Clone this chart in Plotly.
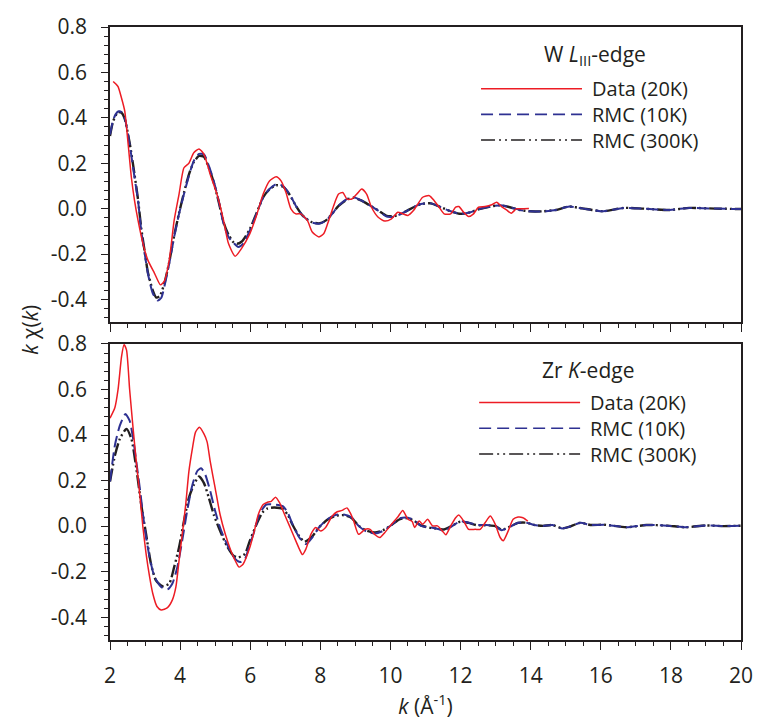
import plotly.graph_objects as go

# ---------------- W L_III-edge (upper panel) ----------------
k_w_data = [2.09, 2.16, 2.23, 2.33, 2.42, 2.52, 2.61, 2.70, 2.80, 2.94, 3.08, 3.27, 3.44, 3.55,
            3.69, 3.83, 3.97, 4.11, 4.25, 4.39, 4.54, 4.68, 4.86, 5.05, 5.24, 5.38, 5.57, 5.75,
            5.99, 6.18, 6.37, 6.55, 6.74, 6.88, 7.02, 7.16, 7.30, 7.44, 7.63, 7.77, 7.96, 8.10,
            8.24, 8.38, 8.52, 8.64, 8.76, 8.90, 9.04, 9.18, 9.32, 9.46, 9.65, 9.84, 10.03, 10.21,
            10.35, 10.50, 10.65, 10.78, 10.92, 11.11, 11.25, 11.39, 11.53, 11.72, 11.86, 11.95,
            12.09, 12.23, 12.37, 12.51, 12.70, 12.89, 13.03, 13.17, 13.31, 13.45, 13.59, 13.73, 13.95]
chi_w_data = [0.56, 0.55, 0.537, 0.486, 0.43, 0.28, 0.137, 0.035, -0.052, -0.154, -0.227, -0.285,
              -0.336, -0.32, -0.227, -0.052, 0.064, 0.18, 0.20, 0.246, 0.263, 0.239, 0.15, 0.064,
              -0.052, -0.154, -0.21, -0.176, -0.11, -0.03, 0.064, 0.122, 0.14, 0.122, 0.071, -0.001,
              -0.023, -0.023, -0.052, -0.103, -0.125, -0.11, -0.052, 0.013, 0.064, 0.071, 0.042,
              0.042, 0.064, 0.086, 0.064, 0.006, -0.038, -0.055, -0.045, -0.016, -0.023, -0.03,
              -0.01, 0.02, 0.05, 0.057, 0.035, 0.006, -0.023, -0.023, 0.006, 0.009, -0.016, -0.035,
              -0.023, 0.006, 0.009, 0.017, 0.028, 0.009, -0.006, -0.02, -0.001, -0.001, 0.0]

k_w_rmc10 = [2.00, 2.09, 2.16, 2.23, 2.33, 2.42, 2.56, 2.70, 2.80, 2.89, 2.99, 3.08, 3.22, 3.36,
             3.46, 3.55, 3.69, 3.83, 3.97, 4.11, 4.25, 4.39, 4.54, 4.68, 4.82, 4.96, 5.10, 5.24,
             5.38, 5.52, 5.66, 5.80, 5.99, 6.18, 6.37, 6.55, 6.74, 6.93, 7.12, 7.30, 7.49, 7.73,
             7.96, 8.15, 8.34, 8.52, 8.76, 8.95, 9.18, 9.42, 9.65, 9.89, 10.12, 10.40, 10.69,
             10.87, 11.15, 11.44, 11.72, 12.00, 12.28, 12.56, 12.85, 13.13, 13.41, 13.69, 13.97,
             14.35, 14.72, 15.10, 15.47, 15.75, 16.08, 16.65, 17.20, 17.96, 18.52, 19.27, 20.00]
chi_w_rmc10 = [0.326, 0.39, 0.415, 0.428, 0.425, 0.40, 0.283, 0.137, 0.035, -0.096, -0.198,
               -0.285, -0.373, -0.405, -0.394, -0.344, -0.242, -0.125, -0.023, 0.064, 0.144, 0.21,
               0.241, 0.239, 0.188, 0.122, 0.035, -0.067, -0.125, -0.15, -0.169, -0.154, -0.096,
               -0.023, 0.05, 0.086, 0.108, 0.10, 0.064, 0.013, -0.03, -0.06, -0.067, -0.055,
               -0.023, 0.013, 0.042, 0.05, 0.035, 0.013, -0.009, -0.035, -0.035, -0.016, 0.009,
               0.02, 0.023, 0.006, -0.012, -0.023, -0.016, -0.001, 0.009, 0.015, 0.006, -0.006,
               -0.012, -0.012, -0.006, 0.009, 0.001, -0.006, -0.012, 0.003, 0.0, -0.006, 0.003,
               0.0, -0.002]

k_w_rmc300 = [2.00, 2.09, 2.23, 2.33, 2.42, 2.56, 2.70, 2.80, 2.89, 2.99, 3.08, 3.22, 3.32, 3.42,
              3.55, 3.69, 3.83, 3.97, 4.11, 4.25, 4.39, 4.54, 4.68, 4.82, 4.96, 5.10, 5.24, 5.38,
              5.52, 5.62, 5.76, 5.99, 6.18, 6.37, 6.55, 6.74, 6.93, 7.12, 7.30, 7.49, 7.73, 7.96,
              8.15, 8.34, 8.52, 8.76, 8.95, 9.18, 9.42, 9.65, 9.89, 10.12, 10.40, 10.69, 10.87,
              11.15, 11.44, 11.72, 12.00, 12.28, 12.56, 12.85, 13.13, 13.41, 13.69, 13.97, 14.35,
              14.72, 15.10, 15.47, 15.75, 16.08, 16.65, 17.20, 17.96, 18.52, 19.27, 20.00]
chi_w_rmc300 = [0.32, 0.385, 0.425, 0.422, 0.395, 0.29, 0.15, 0.04, -0.085, -0.19, -0.28, -0.36,
                -0.392, -0.385, -0.33, -0.235, -0.12, -0.02, 0.07, 0.15, 0.205, 0.232, 0.228,
                0.18, 0.115, 0.03, -0.06, -0.115, -0.148, -0.155, -0.145, -0.09, -0.02, 0.05,
                0.085, 0.103, 0.097, 0.062, 0.013, -0.03, -0.058, -0.065, -0.053, -0.022, 0.012,
                0.04, 0.048, 0.035, 0.013, -0.008, -0.032, -0.033, -0.015, 0.008, 0.02, 0.023,
                0.006, -0.012, -0.023, -0.016, -0.001, 0.009, 0.015, 0.006, -0.006, -0.012, -0.012,
                -0.006, 0.009, 0.001, -0.006, -0.012, 0.003, 0.0, -0.006, 0.003, 0.0, -0.002]

# ---------------- Zr K-edge (lower panel) ----------------
k_zr_data = [2.00, 2.14, 2.23, 2.33, 2.40, 2.47, 2.56, 2.66, 2.75, 2.85, 2.94, 3.03, 3.13, 3.22,
             3.34, 3.46, 3.64, 3.78, 3.88, 3.97, 4.06, 4.16, 4.25, 4.35, 4.44, 4.55, 4.68, 4.77,
             4.86, 5.00, 5.14, 5.29, 5.43, 5.57, 5.68, 5.80, 5.99, 6.12, 6.23, 6.37, 6.51, 6.60,
             6.72, 6.84, 6.98, 7.12, 7.26, 7.40, 7.49, 7.59, 7.73, 7.87, 8.01, 8.15, 8.34, 8.48,
             8.62, 8.76, 8.85, 8.95, 9.09, 9.28, 9.42, 9.56, 9.70, 9.84, 10.03, 10.21, 10.35,
             10.50, 10.62, 10.69, 10.82, 10.92, 11.06, 11.20, 11.34, 11.48, 11.58, 11.72, 11.86,
             11.95, 12.09, 12.23, 12.42, 12.56, 12.70, 12.85, 12.99, 13.13, 13.22, 13.36, 13.50,
             13.64, 13.78, 13.92]
chi_zr_data = [0.474, 0.521, 0.60, 0.745, 0.796, 0.774, 0.60, 0.427, 0.283, 0.138, -0.006, -0.122,
               -0.223, -0.296, -0.353, -0.368, -0.358, -0.324, -0.267, -0.151, -0.036, 0.095,
               0.239, 0.34, 0.413, 0.434, 0.405, 0.37, 0.283, 0.167, 0.051, -0.036, -0.10, -0.151,
               -0.18, -0.166, -0.093, -0.02, 0.051, 0.095, 0.106, 0.109, 0.127, 0.102, 0.051,
               0.001, -0.05, -0.10, -0.125, -0.10, -0.036, -0.006, -0.021, -0.006, 0.044, 0.063,
               0.069, 0.08, 0.059, 0.023, -0.036, -0.014, -0.014, -0.038, -0.05, -0.028, 0.008,
               0.04, 0.069, 0.03, 0.02, -0.006, 0.022, 0.008, 0.03, 0.001, 0.001, -0.021, -0.038,
               0.001, 0.037, 0.049, 0.022, -0.014, -0.014, -0.014, 0.015, 0.044, 0.008, -0.05,
               -0.064, -0.021, 0.03, 0.04, 0.037, 0.022]

k_zr_rmc10 = [2.00, 2.14, 2.28, 2.44, 2.56, 2.66, 2.75, 2.85, 2.94, 3.03, 3.13, 3.27, 3.46, 3.64,
              3.78, 3.92, 4.06, 4.20, 4.35, 4.49, 4.60, 4.72, 4.86, 5.00, 5.14, 5.29, 5.43, 5.57,
              5.71, 5.85, 5.99, 6.10, 6.27, 6.46, 6.69, 6.93, 7.07, 7.21, 7.40, 7.59, 7.77, 7.96,
              8.20, 8.43, 8.67, 8.90, 9.09, 9.32, 9.56, 9.79, 10.03, 10.26, 10.50, 10.69, 10.87,
              11.15, 11.39, 11.53, 11.77, 12.00, 12.23, 12.47, 12.70, 12.99, 13.17, 13.41, 13.64,
              13.88, 14.11, 14.35, 14.62, 14.90, 15.10, 15.42, 15.70, 16.10, 16.73, 17.30, 17.90,
              18.42, 19.00, 19.50, 20.00]
chi_zr_rmc10 = [0.196, 0.355, 0.441, 0.492, 0.463, 0.384, 0.283, 0.167, 0.051, -0.05, -0.137,
                -0.223, -0.267, -0.278, -0.252, -0.18, -0.064, 0.066, 0.181, 0.242, 0.254, 0.225,
                0.153, 0.066, -0.006, -0.064, -0.108, -0.144, -0.158, -0.144, -0.079, -0.03,
                0.055, 0.095, 0.095, 0.088, 0.059, 0.008, -0.05, -0.079, -0.05, -0.006, 0.03,
                0.049, 0.051, 0.037, 0.001, -0.024, -0.032, -0.021, 0.005, 0.034, 0.037, 0.025,
                0.001, -0.006, -0.014, -0.021, 0.001, 0.022, 0.015, 0.005, 0.005, 0.001, -0.018,
                -0.003, 0.015, 0.015, 0.005, 0.001, 0.005, -0.01, -0.003, 0.015, 0.005, 0.006,
                -0.005, 0.005, 0.002, -0.005, 0.003, 0.0, 0.002]

k_zr_rmc300 = [2.00, 2.14, 2.28, 2.47, 2.61, 2.75, 2.89, 3.03, 3.17, 3.31, 3.50, 3.69, 3.83, 3.97,
               4.11, 4.25, 4.39, 4.54, 4.68, 4.82, 4.96, 5.14, 5.33, 5.52, 5.66, 5.85, 5.99, 6.18,
               6.35, 6.50, 6.69, 6.93, 7.07, 7.21, 7.40, 7.55, 7.77, 7.96, 8.20, 8.43, 8.67, 8.90,
               9.09, 9.32, 9.56, 9.79, 10.03, 10.26, 10.50, 10.69, 10.87, 11.15, 11.39, 11.53,
               11.77, 12.00, 12.23, 12.47, 12.70, 12.99, 13.17, 13.41, 13.64, 13.88, 14.11, 14.35,
               14.62, 14.90, 15.10, 15.42, 15.70, 16.10, 16.73, 17.30, 17.90, 18.42, 19.00, 19.50,
               20.00]
chi_zr_rmc300 = [0.196, 0.31, 0.383, 0.427, 0.384, 0.254, 0.095, -0.036, -0.166, -0.238, -0.264,
                 -0.252, -0.18, -0.093, 0.023, 0.124, 0.181, 0.218, 0.189, 0.124, 0.051, -0.021,
                 -0.086, -0.13, -0.137, -0.122, -0.064, 0.008, 0.06, 0.078, 0.082, 0.075, 0.05,
                 0.005, -0.045, -0.068, -0.045, -0.006, 0.028, 0.045, 0.048, 0.035, 0.002, -0.02,
                 -0.028, -0.018, 0.005, 0.03, 0.035, 0.022, 0.003, -0.008, -0.012, -0.015, 0.003,
                 0.02, 0.014, 0.004, 0.004, 0.0, -0.016, -0.002, 0.014, 0.015, 0.005, 0.001, 0.005,
                 -0.01, -0.003, 0.015, 0.005, 0.006, -0.005, 0.005, 0.002, -0.005, 0.003, 0.0,
                 0.002]

series_names = ["Data (20K)", "RMC (10K)", "RMC (300K)"]
panel_titles = ["W <i>L</i><sub>III</sub>-edge", "Zr <i>K</i>-edge"]
x_tick_vals = [2, 4, 6, 8, 10, 12, 14, 16, 18, 20]
y_tick_vals = [-0.4, -0.2, 0.0, 0.2, 0.4, 0.6, 0.8]
y_tick_text = ["-0.4", "-0.2", "0.0", "0.2", "0.4", "0.6", "0.8"]

FONT = "Open Sans"
FS = 21
KEY_FS = 20  # 1.3 line spacing -> 26 px between key rows
INK = "#231f20"
RED = "#ed1c24"
BLUE = "#2e3192"
styles = [
    dict(color=RED, width=1.5, dash="solid"),
    dict(color=BLUE, width=2.0, dash="12px,5px"),
    dict(color=INK, width=2.4, dash="13px,3px,2px,3px,2px,3px"),
]
legend_styles = [
    dict(color=RED, width=1.6, dash="solid"),
    dict(color=BLUE, width=1.6, dash="12px,6px"),
    dict(color=INK, width=1.6, dash="14px,4px,2px,4px,2px,4px"),
]

fig = go.Figure()

panels = [
    ("x2", "y2", [(k_w_data, chi_w_data), (k_w_rmc10, chi_w_rmc10), (k_w_rmc300, chi_w_rmc300)]),
    ("x", "y", [(k_zr_data, chi_zr_data), (k_zr_rmc10, chi_zr_rmc10), (k_zr_rmc300, chi_zr_rmc300)]),
]
draw_order = [2, 1, 0]
for xa, ya, sets in panels:
    for i in draw_order:
        kx, ky = sets[i]
        fig.add_trace(go.Scatter(x=kx, y=ky, mode="lines", name=series_names[i],
                                 line=dict(shape="spline", smoothing=0.6, **styles[i]),
                                 xaxis=xa, yaxis=ya, showlegend=False))

# in-panel keys: title, three sample lines, one block of labels
key_layout = [
    dict(xd="x2 domain", yd="y2 domain", title_y=0.905, title_x=0.768,
         rows=[0.791, 0.704, 0.617], x0=0.588, x1=0.748, tx=0.762),
    dict(xd="x domain", yd="y domain", title_y=0.912, title_x=0.758,
         rows=[0.802, 0.715, 0.628], x0=0.585, x1=0.745, tx=0.759),
]
for p, kl in enumerate(key_layout):
    fig.add_annotation(xref=kl["xd"], yref=kl["yd"], x=kl["title_x"], y=kl["title_y"],
                       text=panel_titles[p], showarrow=False, xanchor="center", yanchor="middle",
                       borderpad=0, font=dict(family=FONT, size=FS, color=INK))
    for i, ry in enumerate(kl["rows"]):
        fig.add_shape(type="line", xref=kl["xd"], yref=kl["yd"], x0=kl["x0"], x1=kl["x1"],
                      y0=ry, y1=ry, line=legend_styles[i])
    fig.add_annotation(xref=kl["xd"], yref=kl["yd"], x=kl["tx"], y=kl["rows"][1],
                       text="<br>".join(series_names), showarrow=False, xanchor="left",
                       yanchor="middle", align="left", borderpad=0,
                       font=dict(family=FONT, size=KEY_FS, color=INK))

fig.add_annotation(xref="paper", yref="paper", x=-0.127, y=0.506,
                   text="<i>k</i> χ(<i>k</i>)", textangle=-90, showarrow=False,
                   xanchor="center", yanchor="middle", font=dict(family=FONT, size=FS, color=INK))

xcommon = dict(range=[2, 20], showline=True, linecolor=INK, linewidth=1.6, mirror=True,
               ticks="outside", ticklen=8, tickwidth=1.3, tickcolor=INK,
               tickvals=x_tick_vals, showgrid=False, zeroline=False,
               minor=dict(dtick=0.5, tick0=2, ticks="outside", ticklen=4, tickwidth=1.1,
                          tickcolor=INK, showgrid=False))
ycommon = dict(range=[-0.5, 0.8], showline=True, linecolor=INK, linewidth=1.6, mirror=True,
               ticks="outside", ticklen=7, tickwidth=1.3, tickcolor=INK,
               tickvals=y_tick_vals, ticktext=y_tick_text, showgrid=False, zeroline=False,
               ticklabelstandoff=10,
               minor=dict(dtick=0.04, tick0=0, ticks="outside", ticklen=4, tickwidth=1.1,
                          tickcolor=INK, showgrid=False),
               tickfont=dict(family=FONT, size=FS, color=INK))

fig.update_layout(
    width=765, height=720,
    margin=dict(l=110, r=16, t=25, b=78),
    paper_bgcolor="white", plot_bgcolor="white",
    font=dict(family=FONT, size=FS, color=INK),
    xaxis=dict(**xcommon, anchor="y", domain=[0, 1], ticklabelstandoff=8,
               tickfont=dict(family=FONT, size=FS, color=INK),
               title=dict(text="<i>k</i> (Å<sup>-1</sup>)", standoff=4,
                          font=dict(family=FONT, size=FS, color=INK))),
    xaxis2=dict(**xcommon, anchor="y2", matches="x", showticklabels=False),
    yaxis=dict(**ycommon, anchor="x", domain=[0, 0.483]),
    yaxis2=dict(**ycommon, anchor="x2", domain=[0.5186, 1]),
)

fig.write_html("out.html")
